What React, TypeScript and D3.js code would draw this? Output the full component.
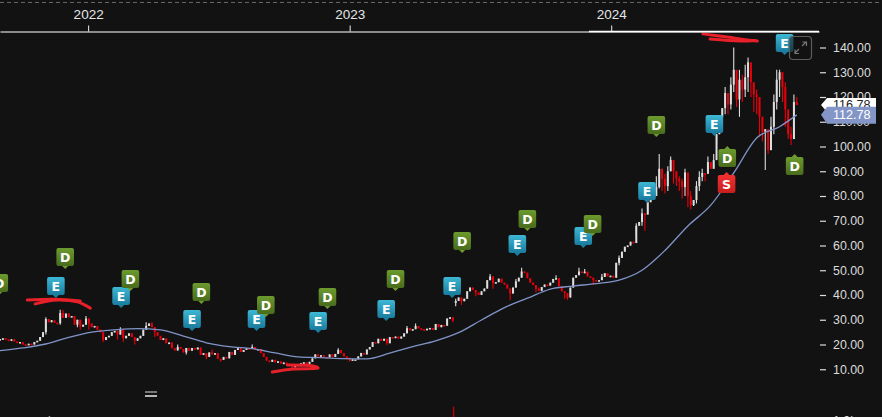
// @ts-nocheck
import React, { useEffect, useRef } from 'react';
import * as d3 from 'd3';

const width = 882, height = 417;
const font = '"Liberation Sans", Arial, sans-serif';

// one close every 4 calendar days, from the first date below
const firstDate = new Date(2021, 7, 31);
const stepDays = 4;
const closes = [
  22.2, 22.5, 22, 21.6, 22.1, 21.2, 20.6, 21, 20, 19.8,
  20.3, 20, 21, 21.5, 23, 25, 30.3, 29, 29.8, 28.8,
  28.6, 32.7, 30.8, 32.5, 31, 31.5, 28, 30, 27.2, 28,
  30.5, 28.5, 27, 27.5, 26, 25, 21.8, 23, 23.5, 25,
  25.5, 24, 26, 22.5, 23.5, 24.5, 23, 21.5, 22.5, 23.5,
  26, 27.5, 28.5, 27, 25, 23.5, 21.8, 22.5, 20.5, 20.8,
  18.5, 17.6, 19, 18.2, 16.8, 18.6, 17.5, 18.6, 18, 18.8,
  15.8, 16.5, 15, 16.8, 16, 16.5, 14.2, 13.8, 15, 14.4,
  17, 15.8, 17.8, 18.5, 17, 17.8, 18.5, 18.2, 19, 17.8,
  18.2, 16.5, 15, 13.5, 13, 13.8, 12.8, 13.2, 12.2, 12.7,
  12, 11.5, 10.8, 11.6, 11.2, 12.4, 12.8, 12.2, 13, 14.4,
  16, 15.2, 15.7, 15, 14.8, 16, 15, 16.2, 17.8, 16.5,
  15.2, 14.6, 13.6, 14, 14, 15.2, 16.6, 16, 18, 19,
  21, 20.5, 22.3, 21.5, 22.3, 20.5, 23, 22.6, 23.2, 22.4,
  23.2, 24.5, 26.6, 25.8, 26.2, 27.5, 26.5, 26.2, 25.8, 26.4,
  26.7, 25.9, 28.3, 27, 27.9, 27.6, 30.5, 31, 29.6, 37.6,
  39, 37.5, 38.5, 41.5, 43, 42, 41, 40, 41.5, 42.6,
  46, 47.5, 44.8, 45.2, 46.6, 45, 44.2, 42.6, 40.6, 43,
  45.5, 47, 49.5, 49, 46.8, 45, 44, 42.5, 41.7, 43.2,
  44.2, 43.8, 45, 46.5, 46.8, 43.5, 41.5, 40.8, 39, 43,
  47, 48, 49.5, 49.2, 49.4, 47.5, 47, 46, 45.8, 46,
  47.3, 48.8, 47.5, 47.8, 47, 53, 55, 57.5, 59.5, 60,
  61.5, 61, 68, 69.5, 73, 72.5, 77.5, 78.5, 80, 83.6,
  91, 87, 84, 90, 94.6, 90, 87, 86, 83.6, 89.5,
  80, 76.3, 78.4, 84, 87.7, 89.3, 89, 93.7, 91, 94.5,
  105, 112, 115.5, 121.6, 117, 125, 131, 119, 127, 123,
  128, 134, 126, 121, 120, 112, 106, 107, 98.5, 108,
  118, 127, 130, 124, 115, 105, 103, 118, 116.78,
];

// wicks that stick out of the body: candle index and price
const highWicks = [
  [16, 31], [21, 34], [22, 33.9], [26, 30], [30, 31.5], [42, 27], [51, 29], [53, 29], [62, 20], [74, 18], [88, 20], [118, 18.5],
  [142, 27.5], [145, 28.5], [159, 38.5], [171, 48.5], [180, 46.5], [182, 51], [188, 43], [194, 48], [202, 51], [204, 50.5], [210, 48.5],
  [216, 56], [222, 69], [224, 75], [229, 88], [230, 97], [231, 91], [232, 89], [233, 92], [234, 96], [235, 93], [236, 90], [237, 88],
  [238, 87], [239, 91], [241, 82], [243, 86], [244, 90], [245, 91], [247, 96], [249, 97], [253, 124], [255, 128], [256, 140], [257, 128],
  [258, 131], [259, 129], [260, 133], [261, 136], [262, 131], [263, 125], [264, 123], [265, 120], [266, 112], [268, 106], [269, 112],
  [270, 121], [271, 131], [272, 131], [273, 130], [274, 126], [275, 112], [276, 108], [277, 121], [278, 120],
];
const lowWicks = [
  [16, 24], [21, 28], [27, 27], [28, 26], [31, 26], [36, 21], [41, 22], [43, 21], [47, 20], [54, 23], [65, 16], [72, 14], [77, 13],
  [102, 10.3], [122, 13], [135, 19.8], [158, 29], [159, 35.5], [161, 36], [166, 39.5], [172, 42.5], [178, 38], [187, 41], [197, 38.5],
  [198, 38], [207, 44], [216, 52], [222, 64], [224, 68], [225, 66], [230, 83], [231, 82], [232, 81], [233, 82], [235, 85], [236, 84],
  [237, 82], [238, 79], [239, 80], [240, 75.5], [241, 74.5], [242, 76], [243, 77], [244, 82], [245, 86], [246, 86], [250, 101], [252, 110],
  [253, 113], [254, 113], [255, 115], [256, 122], [257, 116], [258, 112], [259, 118], [260, 120], [261, 122], [262, 120], [263, 114],
  [264, 113], [265, 104], [266, 102], [267, 90.5], [268, 97], [269, 100], [270, 105], [271, 115], [272, 120], [273, 118], [274, 108],
  [275, 103], [276, 100.6],
];

// 50 day line: every 8th candle, then the last one
const maValues = [
  17.5, 18.6, 20.2, 22.9, 25, 25.9, 26.4, 25.9, 23.4, 20.7, 19.1, 18.3,
  16.6, 15, 14.7, 14.3, 14.2, 16.5, 19.1, 21.5, 24.8, 29.9, 34.9, 38.7,
  42.4, 43.6, 44.6, 46, 50, 58, 67.9, 76.3, 89.3, 103.4, 108, 112.78,
];

const lastPrice = 116.78;
const lastMa = 112.78;
const priceTicks = [10, 20, 30, 40, 50, 60, 70, 80, 90, 100, 110, 120, 130, 140];
const yearTicks = [new Date(2022, 0, 1), new Date(2023, 0, 1), new Date(2024, 0, 1)];

// earnings / dividend / split flags
const flagKinds = ['D', 'E', 'D', 'E', 'D', 'E', 'D', 'E', 'D', 'E', 'D', 'E', 'D', 'E', 'D', 'E', 'D', 'E', 'D', 'E', 'D', 'E', 'E'];
const flagDates = ['2021-08-30', '2021-11-17', '2021-11-30', '2022-02-16', '2022-03-01', '2022-05-26', '2022-06-08', '2022-08-24', '2022-09-06', '2022-11-18', '2022-12-01', '2023-02-21', '2023-03-06', '2023-05-24', '2023-06-07', '2023-08-23', '2023-09-06', '2023-11-23', '2023-12-06', '2024-02-20', '2024-03-04', '2024-05-24', '2024-08-30'];
const flagPrices = [40, 38.8, 50.5, 34.7, 41.6, 25.5, 36.4, 25.5, 31.1, 24.6, 34.3, 29.5, 41.6, 38.8, 57, 55.8, 65.9, 59, 63.8, 77.2, 103.8, 104.2, 137];
// these hang under the price
const lowerKinds = ['D', 'S', 'D'];
const lowerDates = ['2024-06-11', '2024-06-10', '2024-09-13'];
const lowerPrices = [100.2, 89.7, 97];

// volume pane, only the tallest bars reach into the frame
const volumeDates = ['2021-11-08', '2022-08-30', '2023-02-20', '2023-05-26', '2023-08-25', '2024-03-10'];
const volumes = [1.1, 1.08, 1.08, 1.29, 1.08, 1.08];
const volumeUp = [true, false, true, false, false, false];

// hand drawn red marks on the chart
const scribbles = [
  [['2021-10-08', 38], ['2021-11-15', 38.3], ['2021-12-21', 37.6]],
  [['2021-10-19', 36.4], ['2021-11-19', 38], ['2021-12-17', 37.2], ['2022-01-04', 34.7]],
  [['2022-09-15', 8.9], ['2022-10-14', 10.1], ['2022-11-18', 10.5], ['2022-11-11', 11.3], ['2022-10-06', 11.7]],
  [['2024-05-08', 145.5], ['2024-06-11', 144.2], ['2024-07-09', 143], ['2024-07-23', 142.6]],
  [['2024-05-18', 143.4], ['2024-06-29', 142.6], ['2024-07-20', 142.8]],
];

const parse = d3.timeParse('%Y-%m-%d');

const App = () => {
  const ref = useRef(null);

  useEffect(() => {
    const svg = d3.select(ref.current);
    svg.selectAll('*').remove();

    const x = d3.scaleTime().domain([firstDate, new Date(2024, 9, 17)]).range([0, 819]);
    const y = d3.scaleLinear().domain([10, 140]).range([369.25, 47.5]);
    const yVol = d3.scaleLinear().domain([0, 1]).range([470, 421]);
    const dateAt = (i) => d3.timeDay.offset(firstDate, i * stepDays);

    const defs = svg.append('defs');
    const gradient = (id, top, bottom) => {
      const g = defs.append('linearGradient').attr('id', id).attr('x1', 0).attr('x2', 0).attr('y1', 0).attr('y2', 1);
      g.append('stop').attr('offset', '0%').attr('stop-color', top);
      g.append('stop').attr('offset', '100%').attr('stop-color', bottom);
    };
    gradient('grad-E', '#3db8d4', '#1a7c9e');
    gradient('grad-D', '#6c9a2e', '#496c1d');
    gradient('grad-S', '#f03030', '#c81e1e');

    svg.append('rect').attr('width', width).attr('height', height).attr('fill', '#121212');

    // top dashed border
    svg.append('line').attr('x1', 0).attr('x2', width).attr('y1', 2.5).attr('y2', 2.5)
      .attr('stroke', '#666').attr('stroke-dasharray', '4 3');

    // volume
    svg.append('g').selectAll('line').data(volumes).join('line')
      .attr('x1', (d, i) => x(parse(volumeDates[i])))
      .attr('x2', (d, i) => x(parse(volumeDates[i])))
      .attr('y1', d => yVol(d))
      .attr('y2', height)
      .attr('stroke', (d, i) => volumeUp[i] ? '#bbb' : '#c00000')
      .attr('stroke-width', 1.4);

    // pane handle
    svg.append('line').attr('x1', 145).attr('x2', 157).attr('y1', 392).attr('y2', 392).attr('stroke', '#999').attr('stroke-width', 1.5);
    svg.append('line').attr('x1', 145).attr('x2', 157).attr('y1', 396).attr('y2', 396).attr('stroke', '#eee').attr('stroke-width', 1.5);

    // candles, each one opens at the previous close
    const candles = closes.map((close, i) => ({ date: dateAt(i), open: i ? closes[i - 1] : close, close, i }));
    // the gap up in 2023 is the only open that differs
    candles[159].open = 36.8;
    const highs = new Map(highWicks), lows = new Map(lowWicks);
    const colour = d => d.close >= d.open ? '#dedede' : '#e8000b';

    const candleG = svg.append('g');
    candleG.selectAll('line').data(candles).join('line')
      .attr('x1', d => x(d.date)).attr('x2', d => x(d.date))
      .attr('y1', d => y(highs.get(d.i) ?? Math.max(d.open, d.close)))
      .attr('y2', d => y(lows.get(d.i) ?? Math.min(d.open, d.close)))
      .attr('stroke', colour)
      .attr('stroke-width', 1.1);
    candleG.selectAll('rect').data(candles).join('rect')
      .attr('x', d => x(d.date) - 1)
      .attr('width', 2)
      .attr('y', d => y(Math.max(d.open, d.close)))
      .attr('height', d => Math.max(1.6, Math.abs(y(d.open) - y(d.close))))
      .attr('fill', colour);

    // moving average
    const maIndex = maValues.map((v, k) => k < maValues.length - 1 ? k * 8 : closes.length - 1);
    svg.append('path')
      .datum(maValues)
      .attr('fill', 'none')
      .attr('stroke', '#8094c8')
      .attr('stroke-width', 1.3)
      .attr('d', d3.line().curve(d3.curveMonotoneX)
        .x((d, k) => x(dateAt(maIndex[k])))
        .y(d => y(d)));

    // red scribbles
    svg.append('g').selectAll('path').data(scribbles).join('path')
      .attr('fill', 'none')
      .attr('stroke', '#e8202a')
      .attr('stroke-width', 3)
      .attr('stroke-linecap', 'round')
      .attr('stroke-linejoin', 'round')
      .attr('d', d3.line().curve(d3.curveCatmullRom)
        .x(d => x(parse(d[0])))
        .y(d => y(d[1])));

    // flags: tip is at the price, box above or under it
    const drawFlag = (kind, date, price, under) => {
      const cx = x(parse(date)), tip = y(price), dir = under ? 1 : -1;
      const g = svg.append('g');
      const boxTop = under ? tip + 3 : tip - 21;
      g.append('path')
        .attr('d', `M${cx - 3.5},${tip + dir * 3.5}L${cx},${tip}L${cx + 3.5},${tip + dir * 3.5}Z`)
        .attr('fill', kind === 'E' ? '#1a7c9e' : kind === 'D' ? '#6c9a2e' : '#f03030');
      g.append('rect')
        .attr('x', cx - 8.8).attr('y', boxTop).attr('width', 17.6).attr('height', 18).attr('rx', 2)
        .attr('fill', `url(#grad-${kind})`);
      g.append('text')
        .attr('x', cx).attr('y', boxTop + 9.3)
        .attr('text-anchor', 'middle').attr('dominant-baseline', 'central')
        .attr('fill', '#fff')
        .attr('font-family', '"DejaVu Sans", sans-serif')
        .attr('font-weight', 'bold')
        .attr('font-size', 12.5)
        .text(kind);
    };
    flagKinds.forEach((k, i) => drawFlag(k, flagDates[i], flagPrices[i], false));
    lowerKinds.forEach((k, i) => drawFlag(k, lowerDates[i], lowerPrices[i], true));

    // expand button
    const btn = svg.append('g').attr('fill', 'none').attr('stroke', '#777');
    btn.append('rect').attr('x', 789.5).attr('y', 36.5).attr('width', 22).attr('height', 23).attr('rx', 3.5)
      .attr('fill', 'rgba(18,18,18,0.55)').attr('stroke', '#5c5c5c').attr('stroke-width', 1.2);
    btn.append('path').attr('d', 'M795,53L799,49M795,49.5V53.5H799M802,46L806,42M802.5,42H806.5V46').attr('stroke-width', 1.2);

    // top axis
    const topAxis = svg.append('g')
      .attr('transform', 'translate(0,31.5)')
      .call(d3.axisTop(x).tickValues(yearTicks).tickFormat(d3.timeFormat('%Y')).tickSize(6).tickSizeOuter(0).tickPadding(7));
    topAxis.select('.domain').attr('stroke', '#b5b5b5').attr('stroke-width', 1.4);
    topAxis.selectAll('line').attr('stroke', '#eee');
    topAxis.selectAll('text').attr('fill', '#e6e6e6').attr('font-family', font).attr('font-size', 13.5);
    svg.append('line').attr('x1', x(new Date(2023, 11, 1))).attr('x2', 819).attr('y1', 31.5).attr('y2', 31.5)
      .attr('stroke', '#fff').attr('stroke-width', 1.4);

    // price axis
    const rightAxis = svg.append('g')
      .attr('transform', 'translate(820,0)')
      .call(d3.axisRight(y).tickValues(priceTicks).tickFormat(d3.format('.2f')).tickSize(6).tickPadding(7));
    rightAxis.select('.domain').remove();
    rightAxis.selectAll('line').attr('stroke', '#ddd').attr('stroke-width', 1.2);
    rightAxis.selectAll('text').attr('fill', '#dcdcdc').attr('font-family', font).attr('font-size', 12.4);

    svg.append('text').attr('x', 833).attr('y', yVol(1)).attr('dominant-baseline', 'central')
      .attr('fill', '#dcdcdc').attr('font-family', font).attr('font-size', 12.4).text('1.0b');

    // last price labels
    const priceFlag = (value, top, h, fill, textFill) => {
      const c = y(value);
      svg.append('path')
        .attr('d', `M821,${c}L827,${top}H876V${top + h}H827Z`)
        .attr('fill', fill);
      svg.append('text').attr('x', 833).attr('y', c).attr('dominant-baseline', 'central')
        .attr('fill', textFill).attr('font-family', font).attr('font-size', 12.6)
        .text(value.toFixed(2));
    };
    priceFlag(lastPrice, y(lastPrice) - 7, 14, '#ffffff', '#222');
    priceFlag(lastMa, y(lastMa) - 8, 17, '#8496c8', '#ffffff');
  }, []);

  return <svg ref={ref} width={width} height={height} style={{ position: 'fixed', left: 0, top: 0 }} />;
};

export default App;
